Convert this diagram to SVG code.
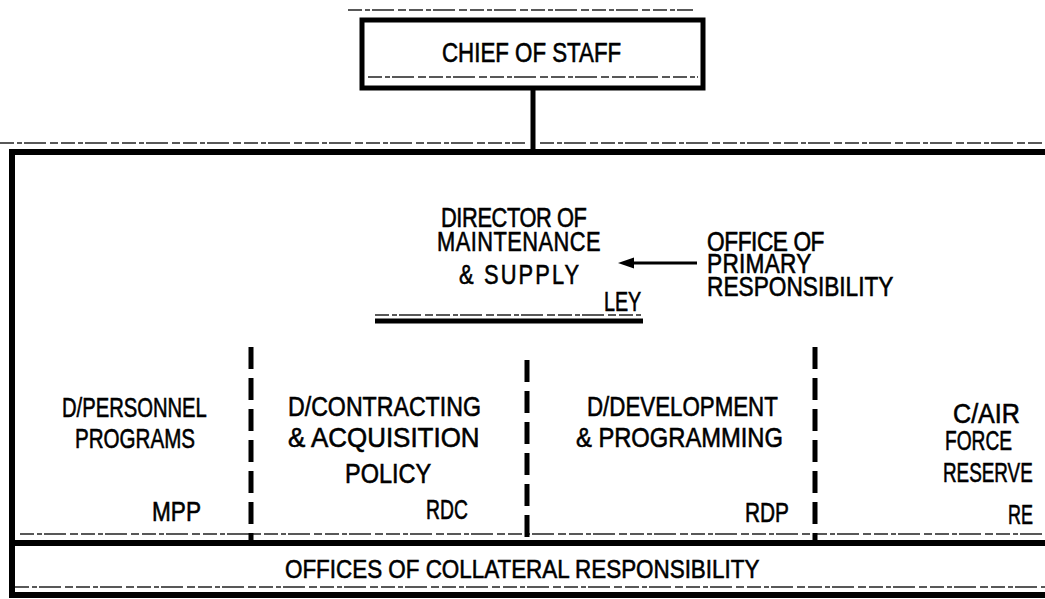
<svg xmlns="http://www.w3.org/2000/svg" width="1045" height="599" viewBox="0 0 1045 599">
<style>
  .t { font-family: "Liberation Sans", Arial, sans-serif; font-size: 28px; fill: #000; stroke: #000; stroke-width: 0.6; }
  .m { font-size: 27px; }
  .s { font-size: 26px; }
  .frame { stroke: #000; fill: none; stroke-width: 6; }
  .div { stroke: #000; stroke-width: 5; stroke-dasharray: 22 9; fill: none; }
  .noise { stroke: #222; stroke-width: 1.6; stroke-dasharray: 14 3 5 2 22 4 8 3; fill: none; }
</style>
<rect width="1045" height="599" fill="#fff"/>

<!-- scan noise lines -->
<g id="noise">
  <line class="noise" x1="348" y1="10" x2="693" y2="10"/>
  <line class="noise" x1="0" y1="143" x2="525" y2="143"/>
  <line class="noise" x1="540" y1="143" x2="1045" y2="143"/>
  <line class="noise" x1="375" y1="315" x2="643" y2="315"/>
  <line class="noise" x1="20" y1="534" x2="1045" y2="534"/>
  <line class="noise" x1="15" y1="587" x2="1045" y2="587"/>
</g>

<!-- frame -->
<g id="frame">
  <line class="frame" x1="10" y1="152" x2="1045" y2="152"/>
  <line class="frame" x1="12" y1="149" x2="12" y2="598"/>
  <line class="frame" x1="9" y1="595" x2="1045" y2="595"/>
  <line class="frame" x1="10" y1="543" x2="1045" y2="543" stroke-width="5"/>
</g>

<g id="connectors">
  <line x1="533" y1="90" x2="533" y2="152" stroke="#000" stroke-width="5"/>
  <line x1="697" y1="263" x2="630" y2="263" stroke="#000" stroke-width="3"/>
  <polygon points="618,263 634,257.5 634,268.5" fill="#000"/>
  <line class="div" x1="251" y1="347" x2="251" y2="543"/>
  <line class="div" x1="527" y1="360" x2="527" y2="543"/>
  <line class="div" x1="815" y1="347" x2="815" y2="543"/>
</g>

<g id="chief-of-staff">
  <rect x="362" y="20" width="341" height="68" fill="#fff" stroke="#000" stroke-width="5"/>
  <line class="noise" x1="368" y1="77" x2="698" y2="77"/>
  <text class="t m" transform="translate(442,62) scale(0.826,1)">CHIEF OF STAFF</text>
</g>

<g id="director">
  <text class="t" transform="scale(0.78,1)">
    <tspan x="565.4" y="227" letter-spacing="-0.52">DIRECTOR OF</tspan>
    <tspan x="560.3" y="251" letter-spacing="0.59">MAINTENANCE</tspan>
    <tspan x="588.5" y="284" letter-spacing="2.75">&amp; SUPPLY</tspan>
  </text>
  <text class="t m" transform="translate(604,311) scale(0.73,1)">LEY</text>
  <line x1="375" y1="321" x2="643" y2="321" stroke="#000" stroke-width="5"/>
</g>

<g id="opr-label">
  <text class="t m" transform="scale(0.84,1)">
    <tspan x="841.7" y="251" letter-spacing="-0.52">OFFICE OF</tspan>
    <tspan x="841.7" y="273" letter-spacing="0.29">PRIMARY</tspan>
    <tspan x="841.7" y="296">RESPONSIBILITY</tspan>
  </text>
</g>

<g id="mpp">
  <text class="t" transform="translate(62,417) scale(0.722,1)">D/PERSONNEL</text>
  <text class="t" transform="translate(75,448) scale(0.735,1)">PROGRAMS</text>
  <text class="t" transform="translate(152,521) scale(0.807,1)">MPP</text>
</g>

<g id="rdc">
  <text class="t" transform="translate(288,416) scale(0.827,1)">D/CONTRACTING</text>
  <text class="t" transform="translate(288,447) scale(0.926,1)">&amp; ACQUISITION</text>
  <text class="t" transform="translate(345,483) scale(0.84,1)">POLICY</text>
  <text class="t" transform="translate(426,519) scale(0.69,1)">RDC</text>
</g>

<g id="rdp">
  <text class="t" transform="translate(587,416) scale(0.797,1)">D/DEVELOPMENT</text>
  <text class="t" transform="translate(576,447) scale(0.848,1)">&amp; PROGRAMMING</text>
  <text class="t" transform="translate(745,522) scale(0.745,1)">RDP</text>
</g>

<g id="re">
  <text class="t" transform="translate(953,423) scale(0.897,1)">C/AIR</text>
  <text class="t" transform="translate(945,450) scale(0.684,1)">FORCE</text>
  <text class="t" transform="translate(943,482) scale(0.673,1)">RESERVE</text>
  <text class="t" transform="translate(1008,524) scale(0.643,1)">RE</text>
</g>

<g id="collateral">
  <text class="t s" transform="translate(285,578) scale(0.862,1)">OFFICES OF COLLATERAL RESPONSIBILITY</text>
</g>
</svg>
